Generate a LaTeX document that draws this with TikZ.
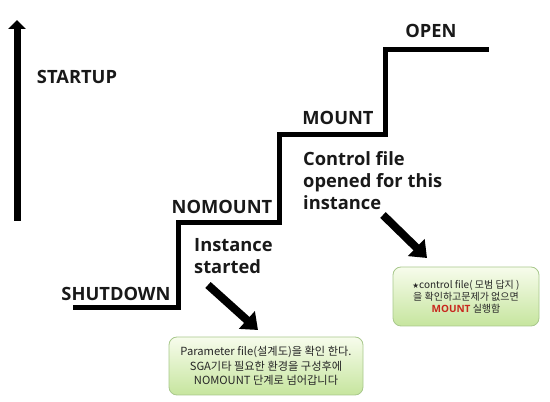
\documentclass[tikz,border=0pt]{standalone}
\usepackage{fontspec}
\setmainfont{Open Sans}
\newfontfamily\krfont{Noto Sans CJK KR}
\newfontfamily\symfont{DejaVu Sans}
\usetikzlibrary{arrows.meta}
\definecolor{notetop}{RGB}{247,252,236}
\definecolor{notebot}{RGB}{198,229,158}
\definecolor{noteline}{RGB}{168,200,140}
\definecolor{mountred}{RGB}{200,40,30}
\begin{document}
\begin{tikzpicture}[x=1pt,y=1pt,
  lbl/.style={font=\bfseries\fontsize{18.3}{22}\selectfont, inner sep=0pt, align=left, text=black!90},
  stair/.style={line width=5pt, line join=miter},
  bigarrow/.style={line width=8pt, -{Triangle[width=23pt,length=15pt]}},
  uparrow/.style={line width=7pt, -{Triangle[width=17pt,length=9pt]}},
  note/.style={draw=noteline, line width=0.8pt, rounded corners=8pt, top color=notetop, bottom color=notebot,
    align=center, inner sep=0pt, text=black!85}]
\useasboundingbox (0,0) rectangle (550,402);

% STARTUP arrow
\coordinate (upS) at (17,181);
\coordinate (upE) at (17,382);
\draw[uparrow] (upS) -- (upE);

% staircase
\draw[stair] (73,94) -- (178,94) -- (178,179) -- (279,179) -- (279,267) -- (385,267) -- (385,352) -- (489,352);

% labels
\node[lbl] (startup) at (77,325) {STARTUP};
\node[lbl] (shutdown) at (116,108) {SHUTDOWN};
\node[lbl] (nomount) at (222,195) {NOMOUNT};
\node[lbl] (mount) at (338,284) {MOUNT};
\node[lbl] (open) at (431,371) {OPEN};
\node[lbl, anchor=north west] (ctrl) at (303,251) {Control file\\opened for this\\instance};
\node[lbl, anchor=north west] (inst) at (194,164) {Instance\\started};

% notes
\node[note, minimum width=194pt, minimum height=58pt, font=\krfont\fontsize{11.2}{14.5}\selectfont] (note1) at (266,36)
  {Parameter file(설계도)을 확인 한다.\\SGA기타 필요한 환경을 구성후에\\NOMOUNT 단계로 넘어갑니다};
\node[note, minimum width=146pt, minimum height=59pt, font=\krfont\fontsize{10}{12}\selectfont] (note2) at (466,105.5)
  {{\symfont\fontsize{7.5}{12}\selectfont ★}control file( 모범 답지 )\\을 확인하고문제가 없으면\\{\rmfamily\bfseries\color{mountred}MOUNT} 실행함};

% pointer arrows
\coordinate (a1s) at (208,117);
\coordinate (a1e) at (258,72);
\coordinate (a2s) at (383,187);
\coordinate (a2e) at (427,144);
\draw[bigarrow] (a1s) -- (a1e);
\draw[bigarrow] (a2s) -- (a2e);
\end{tikzpicture}
\end{document}
